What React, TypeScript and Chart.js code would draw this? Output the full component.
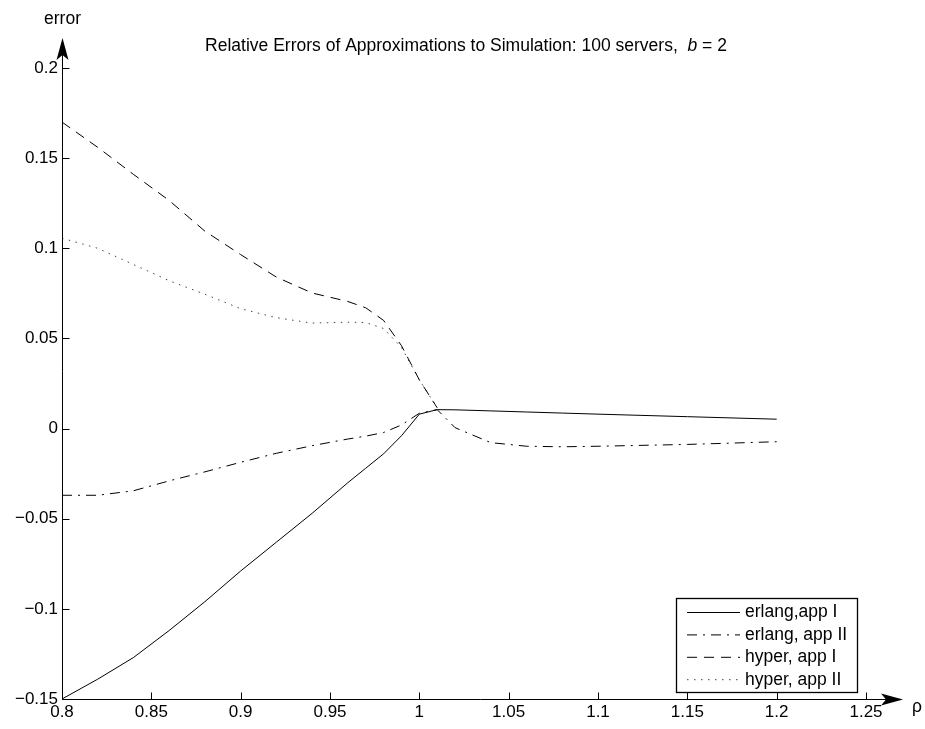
import { useEffect, useRef } from 'react';
import { Chart, registerables } from 'chart.js';

Chart.register(...registerables);

const FONT = '"Liberation Sans", Arial, Helvetica, sans-serif';

// ---------- data ----------
const RHO = [0.8, 0.82, 0.84, 0.86, 0.88, 0.9, 0.92, 0.94, 0.96, 0.97, 0.98, 0.99, 1.0, 1.01, 1.02, 1.04, 1.06, 1.08, 1.1, 1.15, 1.2];
const ERLANG_APP_I = [-0.15, -0.139, -0.127, -0.112, -0.096, -0.079, -0.063, -0.047, -0.03, -0.022, -0.014, -0.004, 0.008, 0.0105, 0.0104, 0.0098, 0.0092, 0.0086, 0.008, 0.0066, 0.0052];
const ERLANG_APP_II = [-0.037, -0.037, -0.0345, -0.029, -0.024, -0.0187, -0.0137, -0.0095, -0.0058, -0.0042, -0.0022, 0.002, 0.0085, 0.0105, 0.0005, -0.0078, -0.0098, -0.0101, -0.0098, -0.0088, -0.0073];

const RHO_HYPER = [0.8, 0.82, 0.84, 0.86, 0.88, 0.9, 0.92, 0.94, 0.96, 0.97, 0.98, 0.99, 1.0, 1.01];
const HYPER_APP_I = [0.17, 0.156, 0.141, 0.1265, 0.1095, 0.0965, 0.084, 0.0752, 0.0705, 0.067, 0.06, 0.046, 0.027, 0.0115];
const HYPER_APP_II = [0.1056, 0.1, 0.091, 0.082, 0.0745, 0.0665, 0.0615, 0.0585, 0.059, 0.0588, 0.0555, 0.045, 0.027, 0.0115];

const SERIES_NAMES = ['erlang,app I', 'erlang, app II', 'hyper, app I', 'hyper, app II'];

const X_TICKS = [0.8, 0.85, 0.9, 0.95, 1.0, 1.05, 1.1, 1.15, 1.2, 1.25];
const X_TICK_LABELS = ['0.8', '0.85', '0.9', '0.95', '1', '1.05', '1.1', '1.15', '1.2', '1.25'];
const Y_TICKS = [-0.15, -0.1, -0.05, 0, 0.05, 0.1, 0.15, 0.2];
const Y_TICK_LABELS = ['\u22120.15', '\u22120.1', '\u22120.05', '0', '0.05', '0.1', '0.15', '0.2'];

const TITLE_MAIN = 'Relative Errors of Approximations to Simulation: 100 servers,  ';
const TITLE_VAR = 'b';
const TITLE_END = ' = 2';
const X_LABEL = '\u03c1';
const Y_LABEL = 'error';

const pts = (xs: number[], ys: number[]) => xs.map((x, i) => ({ x, y: ys[i] }));

const overlayPlugin = {
  id: 'overlay',
  afterDraw(chart: any) {
    const { ctx, chartArea } = chart;
    const { left, right, top, bottom } = chartArea;
    const xs = chart.scales.x;
    const ys = chart.scales.y;
    ctx.save();
    ctx.strokeStyle = '#000';
    ctx.fillStyle = '#000';
    ctx.lineWidth = 1;
    ctx.setLineDash([]);

    // axes + extensions
    const ax = Math.round(left) + 0.5;
    const ay = Math.round(bottom) + 0.5;
    const yTip = top - 30;
    const xTip = right + 37;
    ctx.beginPath();
    ctx.moveTo(ax, ay);
    ctx.lineTo(ax, yTip + 5);
    ctx.moveTo(ax, ay);
    ctx.lineTo(xTip - 5, ay);
    ctx.stroke();

    // arrow heads
    ctx.beginPath();
    ctx.moveTo(ax, yTip);
    ctx.lineTo(ax - 6, yTip + 22);
    ctx.lineTo(ax, yTip + 17);
    ctx.lineTo(ax + 6, yTip + 22);
    ctx.closePath();
    ctx.fill();
    ctx.beginPath();
    ctx.moveTo(xTip, ay);
    ctx.lineTo(xTip - 22, ay - 6);
    ctx.lineTo(xTip - 17, ay);
    ctx.lineTo(xTip - 22, ay + 6);
    ctx.closePath();
    ctx.fill();

    // inward tick marks
    ctx.beginPath();
    X_TICKS.forEach((v) => {
      const px = Math.round(xs.getPixelForValue(v)) + 0.5;
      ctx.moveTo(px, ay);
      ctx.lineTo(px, ay - 7);
    });
    Y_TICKS.forEach((v) => {
      const py = Math.round(ys.getPixelForValue(v)) + 0.5;
      ctx.moveTo(ax, py);
      ctx.lineTo(ax + 7, py);
    });
    ctx.stroke();

    // axis labels
    ctx.font = `17.5px ${FONT}`;
    ctx.textAlign = 'center';
    ctx.textBaseline = 'middle';
    ctx.fillText(Y_LABEL, ax, yTip - 19);
    ctx.textAlign = 'left';
    ctx.fillText(X_LABEL, xTip + 9, ay + 8);

    // title
    const TS = 17.5;
    ctx.font = `${TS}px ${FONT}`;
    const w1 = ctx.measureText(TITLE_MAIN).width;
    ctx.font = `italic ${TS}px ${FONT}`;
    const w2 = ctx.measureText(TITLE_VAR).width;
    ctx.font = `${TS}px ${FONT}`;
    const w3 = ctx.measureText(TITLE_END).width;
    let tx = 466 - (w1 + w2 + w3) / 2;
    const ty = top - 22;
    ctx.textAlign = 'left';
    ctx.fillText(TITLE_MAIN, tx, ty);
    tx += w1;
    ctx.font = `italic ${TS}px ${FONT}`;
    ctx.fillText(TITLE_VAR, tx, ty);
    tx += w2;
    ctx.font = `${TS}px ${FONT}`;
    ctx.fillText(TITLE_END, tx, ty);

    // legend box
    const lx = right - 190;
    const lyTop = bottom - 101;
    const lw = 181;
    const lh = 94;
    ctx.fillStyle = '#fff';
    ctx.fillRect(lx, lyTop, lw, lh);
    ctx.strokeStyle = '#000';
    ctx.lineWidth = 1.3;
    ctx.strokeRect(lx + 0.5, lyTop + 0.5, lw, lh);
    ctx.font = `17.5px ${FONT}`;
    ctx.textBaseline = 'middle';
    chart.data.datasets.forEach((ds: any, i: number) => {
      const ry = lyTop + 14.5 + i * 22.4;
      ctx.strokeStyle = ds.borderColor;
      ctx.lineWidth = ds.borderWidth;
      ctx.setLineDash(ds.borderDash || []);
      ctx.beginPath();
      ctx.moveTo(lx + 11, ry);
      ctx.lineTo(lx + 64, ry);
      ctx.stroke();
      ctx.setLineDash([]);
      ctx.fillStyle = '#000';
      ctx.fillText(ds.label, lx + 69, ry);
    });

    ctx.restore();
  },
};

export default function App() {
  const ref = useRef<HTMLCanvasElement | null>(null);

  useEffect(() => {
    if (!ref.current) return;
    const chart = new Chart(ref.current, {
      type: 'line',
      data: {
        datasets: [
          { label: SERIES_NAMES[0], data: pts(RHO, ERLANG_APP_I), borderColor: '#000', borderWidth: 1, borderDash: [], pointRadius: 0, tension: 0, fill: false },
          { label: SERIES_NAMES[1], data: pts(RHO, ERLANG_APP_II), borderColor: '#000', borderWidth: 1, borderDash: [10, 6, 2, 6], pointRadius: 0, tension: 0, fill: false },
          { label: SERIES_NAMES[2], data: pts(RHO_HYPER, HYPER_APP_I), borderColor: '#000', borderWidth: 1, borderDash: [10, 7], pointRadius: 0, tension: 0, fill: false },
          { label: SERIES_NAMES[3], data: pts(RHO_HYPER, HYPER_APP_II), borderColor: '#444', borderWidth: 1, borderDash: [1.5, 5.5], pointRadius: 0, tension: 0, fill: false },
        ],
      },
      options: {
        animation: false,
        responsive: false,
        maintainAspectRatio: false,
        layout: { padding: { top: 68, right: 59, left: 0, bottom: 0 } },
        plugins: {
          legend: { display: false },
          title: { display: false },
          tooltip: { enabled: false },
        },
        scales: {
          x: {
            type: 'linear',
            min: 0.8,
            max: 1.25,
            grid: { display: false, drawTicks: false },
            border: { display: false },
            afterFit: (s: any) => { s.height = 30; },
            afterBuildTicks: (s: any) => { s.ticks = X_TICKS.map((v) => ({ value: v })); },
            ticks: {
              autoSkip: false,
              maxRotation: 0,
              padding: 3,
              color: '#000',
              font: { family: FONT, size: 17 },
              callback: (v: any) => { const i = X_TICKS.findIndex((t) => Math.abs(t - v) < 1e-9); return i >= 0 ? X_TICK_LABELS[i] : ''; },
            },
          },
          y: {
            type: 'linear',
            min: -0.15,
            max: 0.2,
            grid: { display: false, drawTicks: false },
            border: { display: false },
            afterFit: (s: any) => { s.width = 62; },
            afterBuildTicks: (s: any) => { s.ticks = Y_TICKS.map((v) => ({ value: v })); },
            ticks: {
              autoSkip: false,
              padding: 4,
              color: '#000',
              font: { family: FONT, size: 17 },
              callback: (v: any) => { const i = Y_TICKS.findIndex((t) => Math.abs(t - v) < 1e-9); return i >= 0 ? Y_TICK_LABELS[i] : ''; },
            },
          },
        },
      },
      plugins: [overlayPlugin],
    });
    return () => chart.destroy();
  }, []);

  return (
    <div style={{ position: 'fixed', left: 0, top: 0, width: 925, height: 729, background: '#fff' }}>
      <canvas ref={ref} width={925} height={729} style={{ width: 925, height: 729 }} />
    </div>
  );
}
